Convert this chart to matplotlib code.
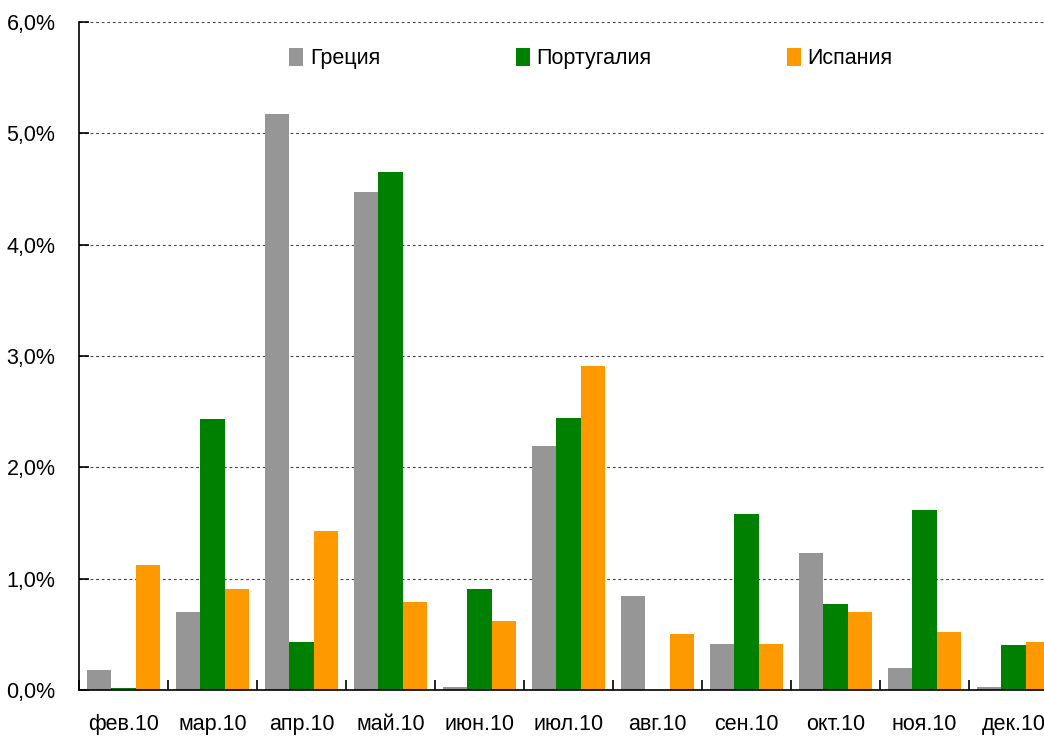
import numpy as np
import matplotlib
matplotlib.use("Agg")
import matplotlib.pyplot as plt
from matplotlib.ticker import FuncFormatter

plt.rcParams['font.family'] = ['Liberation Sans', 'DejaVu Sans']

months = ["фев.10", "мар.10", "апр.10", "май.10", "июн.10", "июл.10",
          "авг.10", "сен.10", "окт.10", "ноя.10", "дек.10"]
greece = [0.18, 0.70, 5.17, 4.47, 0.03, 2.19, 0.84, 0.41, 1.23, 0.20, 0.03]
portugal = [0.015, 2.43, 0.43, 4.65, 0.91, 2.44, 0.0, 1.58, 0.77, 1.62, 0.40]
spain = [1.12, 0.91, 1.43, 0.79, 0.62, 2.91, 0.50, 0.41, 0.70, 0.52, 0.43]
series_names = ["Греция", "Португалия", "Испания"]
colors = ["#969696", "#008000", "#ff9900"]

fig = plt.figure(figsize=(10.44, 7.38), dpi=100)
# axes runs a bit past the right edge, like the original
ax = fig.add_axes([79 / 1044, 48 / 738, 979 / 1044, 668 / 738])

x = np.arange(len(months))
w = 0.275
for i, (vals, name, c) in enumerate(zip([greece, portugal, spain], series_names, colors)):
    ax.bar(x + (i - 1) * w, vals, width=w, color=c, label=name, zorder=2)

ax.set_xlim(-0.5, len(months) - 0.5)
ax.set_ylim(0, 6)
ax.set_yticks(np.arange(0, 7, 1))
ax.yaxis.set_major_formatter(FuncFormatter(lambda v, p: ("%.1f%%" % v).replace(".", ",")))
ax.grid(axis="y", color="#444444", linestyle=(0, (2.5, 2.5)), linewidth=0.8, zorder=0)

ax.set_xticks(x)
ax.set_xticklabels(months)
ax.set_xticks(np.arange(-0.5, len(months), 1), minor=True)
ax.tick_params(axis="x", which="major", length=0, pad=17, labelsize=15.5)
ax.tick_params(axis="x", which="minor", direction="in", length=7, width=1.2)
ax.tick_params(axis="y", direction="in", length=7, width=1.2, pad=17, labelsize=15.5)

for s in ["top", "right"]:
    ax.spines[s].set_visible(False)
ax.spines["left"].set_linewidth(1.2)
ax.spines["bottom"].set_linewidth(1.2)

ax.legend(loc="upper center", bbox_to_anchor=(0.523, 0.99), ncol=3, frameon=False,
          fontsize=15.5, handlelength=0.65, handleheight=0.9, handletextpad=0.3,
          columnspacing=6.3)

fig.savefig("out.png", dpi=100)
